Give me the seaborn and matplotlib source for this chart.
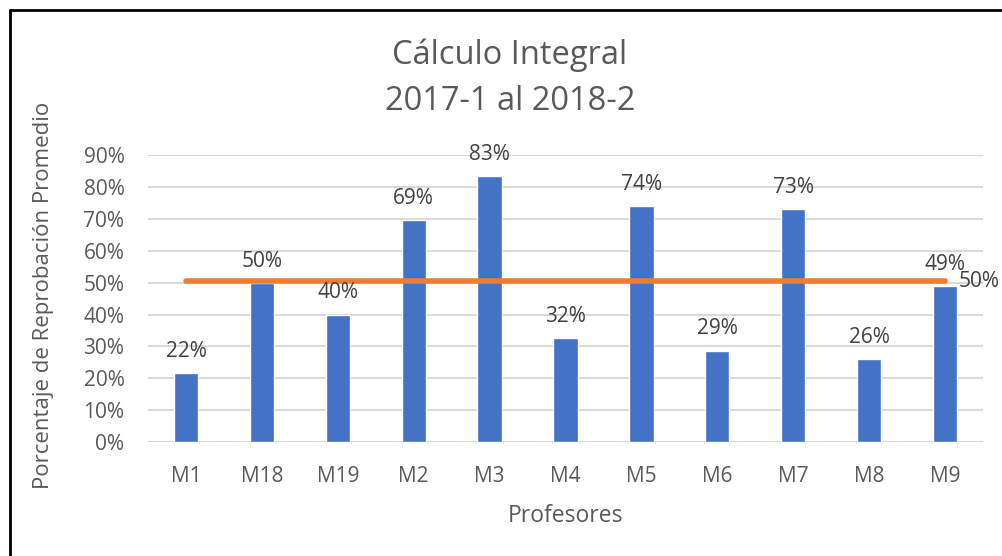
import numpy as np
import pandas as pd
import seaborn as sns
import matplotlib.pyplot as plt
from matplotlib.lines import Line2D
from matplotlib.ticker import PercentFormatter

# datos
profesores = ['M1', 'M18', 'M19', 'M2', 'M3', 'M4', 'M5', 'M6', 'M7', 'M8', 'M9']
reprobacion = [0.215, 0.50, 0.40, 0.695, 0.833, 0.325, 0.74, 0.287, 0.732, 0.26, 0.49]
promedio = [0.505] * len(profesores)
etiquetas = ['22%', '50%', '40%', '69%', '83%', '32%', '74%', '29%', '73%', '26%', '49%']

df = pd.DataFrame({'Profesor': profesores, 'Reprobacion': reprobacion, 'Promedio': promedio})

sns.set_style('white')
plt.rcParams['font.family'] = ['Open Sans', 'DejaVu Sans']
gris = '#595959'

fig, ax = plt.subplots(figsize=(10.02, 5.56), dpi=100)
fig.subplots_adjust(left=0.1477, right=0.981, bottom=0.205, top=0.721)

ax.yaxis.grid(True, color='#D9D9D9', linewidth=1.5)
ax.set_axisbelow(True)

sns.barplot(df, x='Profesor', y='Reprobacion', color='#4472C4', width=0.32,
            saturation=1, ax=ax, zorder=2)
sns.lineplot(df, x='Profesor', y='Promedio', color='#ED7D31', linewidth=4,
             solid_capstyle='round', ax=ax, zorder=3)

# etiquetas de las barras
for i, (v, t) in enumerate(zip(reprobacion, etiquetas)):
    ax.annotate(t, (i, v), xytext=(0, 8), textcoords='offset points',
                ha='center', va='bottom', fontsize=15, color='#404040')
ax.annotate('50%', (len(profesores) - 1, promedio[-1]), xytext=(10, 0),
            textcoords='offset points', ha='left', va='center', fontsize=15,
            color='#404040', annotation_clip=False)

ax.set_ylim(0, 0.9)
ax.set_xlim(-0.5, len(profesores) - 0.5)
ax.set_yticks(np.arange(0, 0.91, 0.1))
ax.yaxis.set_major_formatter(PercentFormatter(1, decimals=0))
ax.tick_params(axis='both', length=0, labelsize=15, colors=gris)
ax.tick_params(axis='x', pad=17)
ax.tick_params(axis='y', pad=17)
sns.despine(ax=ax, left=True, bottom=True, top=True, right=True)

ax.set_xlabel('Profesores', fontsize=16.5, color=gris)
ax.xaxis.set_label_coords(0.5, -0.215)
ax.set_ylabel('Porcentaje de Reprobación Promedio', fontsize=16, color=gris)
ax.yaxis.set_label_coords(-0.112, 0.51)
fig.text(510 / 1002, 1 - 55 / 556, 'Cálculo Integral', fontsize=23.5, color=gris,
         ha='center', va='center')
fig.text(510 / 1002, 1 - 101 / 556, '2017-1 al 2018-2', fontsize=23.5, color=gris,
         ha='center', va='center')

# marco del grafico (solo izquierda y arriba visibles)
fig.add_artist(Line2D([10 / 1002, 10 / 1002], [0, 1 - 10 / 556], color='black', linewidth=2))
fig.add_artist(Line2D([10 / 1002, 1], [1 - 10 / 556, 1 - 10 / 556], color='black', linewidth=2))

fig.savefig('out.png', dpi=100)
